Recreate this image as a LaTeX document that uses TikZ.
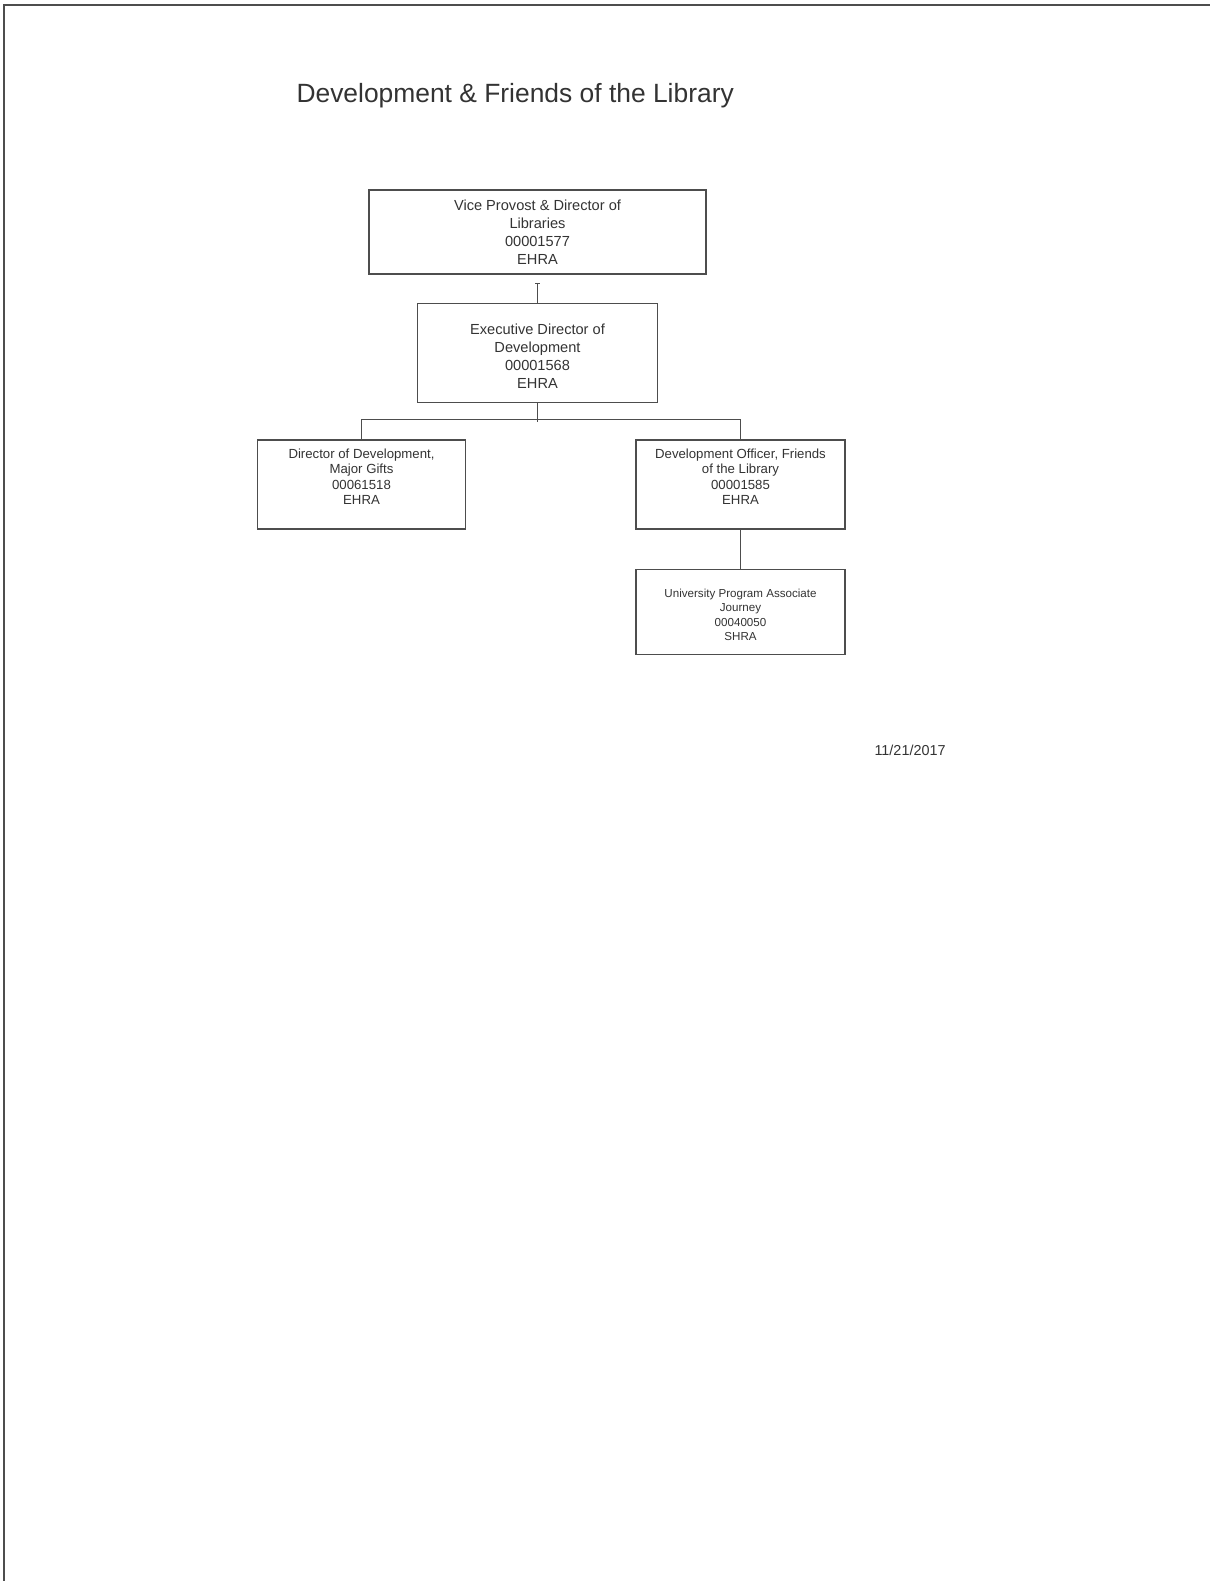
\documentclass[tikz,border=0pt]{standalone}
\usepackage{fontspec}
\setmainfont{Liberation Sans}
\usetikzlibrary{positioning, arrows.meta}
\definecolor{chartgrey}{RGB}{77, 77, 77}
\definecolor{inkgrey}{RGB}{51, 51, 51}

\begin{document}
\begin{tikzpicture}[x=1pt, y=-1pt,
        orgbox/.style={draw=chartgrey, line width=1.3pt, align=center, text=inkgrey,
                       inner sep=0pt},
        bigbox/.style={orgbox, font=\fontsize{14.6}{18}\selectfont},
        midbox/.style={orgbox, font=\fontsize{13.2}{15.5}\selectfont,
                       minimum width=208pt, minimum height=89pt},
        smallbox/.style={orgbox, font=\fontsize{11.6}{14.5}\selectfont,
                       minimum width=209pt, minimum height=85pt},
        conn/.style={draw=chartgrey, line width=1.5pt}]
    \useasboundingbox (0,0) rectangle (1210,1581);
    % page frame
    \draw[chartgrey, line width=2pt] (4,1581) -- (4,5) -- (1210,5);

    \node[anchor=base west, text=inkgrey, font=\fontsize{26.4}{30}\selectfont] (title) at (293,103)
        {Development \& Friends of the Library};

    \node[bigbox, minimum width=337pt, minimum height=84pt] (vprov) at (537.5,232) {
        Vice Provost \& Director of \\ Libraries \\ 00001577 \\ EHRA
    };
    \node[bigbox, minimum width=240pt, minimum height=99pt, below=28pt of vprov] (execdev) {
        \mbox{} \\ Executive Director of \\ Development \\ 00001568 \\ EHRA
    };
    \node[midbox] (majgifts) at (361.5,484.5) {
        Director of Development, \\ Major Gifts \\ 00061518 \\ EHRA \\ \mbox{}
    };
    \node[midbox, minimum width=209pt] (friends) at (740.5,484.5) {
        Development Officer, Friends \\ of the Library \\ 00001585 \\ EHRA \\ \mbox{}
    };
    \node[smallbox, below=39pt of friends] (upa) {
        \mbox{} \\ University Program Associate \\ Journey \\ 00040050 \\ SHRA
    };

    \node[anchor=base west, text=inkgrey, font=\fontsize{14.4}{17}\selectfont] (date) at (871,755)
        {11/21/2017};

    % reporting lines
    \coordinate[below=8pt of vprov.south] (vtick);
    \draw[conn, {Bar[width=5pt, length=1pt]}-] (vtick) -- (execdev.north);
    \draw[conn] (execdev.south) -- ++(0,19);
    \draw[conn] (majgifts.north) -- ++(0,-20) -| (friends.north);
    \draw[conn] (friends.south) -- (upa.north);
\end{tikzpicture}
\end{document}
